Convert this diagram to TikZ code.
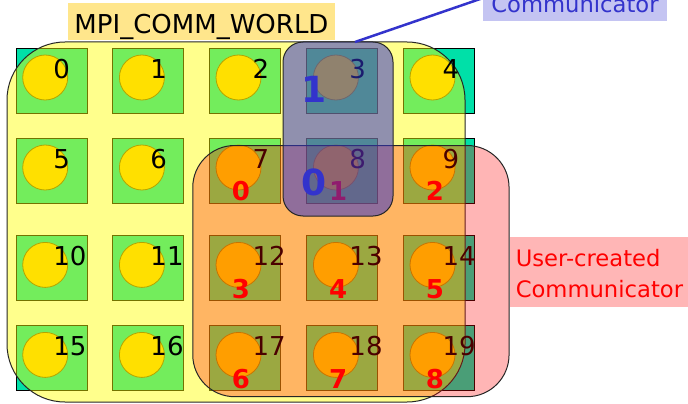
\documentclass[tikz,border=0pt]{standalone}
\usepackage{fontspec}
\setmainfont{DejaVu Sans}
\usetikzlibrary{calc}
\newdimen\pxu \pxu=0.75pt
\definecolor{cellteal}{RGB}{0,224,168}
\definecolor{procyel}{RGB}{255,199,0}
\definecolor{procedge}{RGB}{120,90,0}
\definecolor{commblue}{RGB}{51,51,204}
\definecolor{labyellow}{RGB}{255,230,140}
\definecolor{labpink}{RGB}{255,182,182}
\definecolor{lablav}{RGB}{196,196,242}
\definecolor{ovyellow}{RGB}{255,255,0}
\definecolor{ovred}{RGB}{255,0,0}
\definecolor{ovpurple}{RGB}{51,51,204}
\tikzset{
  cell/.style={rectangle, draw=black, line width=0.8\pxu, fill=cellteal,
    minimum width=71\pxu, minimum height=65\pxu, inner sep=0, outer sep=0},
  proc/.style={circle, draw=procedge, line width=0.8\pxu, fill=procyel,
    minimum size=45\pxu, inner sep=0, outer sep=0},
  rank/.style={font=\fontsize{19.5}{20}\selectfont, inner sep=0, anchor=base west},
  subrank/.style={font=\bfseries\fontsize{19.5}{20}\selectfont, text=red, inner sep=0, anchor=base},
  bigrank/.style={font=\bfseries\fontsize{27}{28}\selectfont, text=commblue, inner sep=0, anchor=base},
  region/.style={rectangle, draw=black!85, line width=1\pxu, inner sep=0, outer sep=0},
  labfont/.style={font=\fontsize{17}{18}\selectfont, inner sep=0},
}
\begin{document}
\begin{tikzpicture}[x=0.75pt,y=-0.75pt]
\useasboundingbox (0,0) rectangle (688,403);
\clip (0,0) rectangle (688,403);
% cells and processes
\foreach \r/\ty in {0/48.3,1/138.3,2/235.7,3/325.7}{
  \foreach \c/\lx in {0/16,1/112.7,2/209.3,3/306.7,4/403.3}{
    \pgfmathtruncatemacro{\n}{5*\r+\c}
    \node[cell] (s\n) at (\lx+35.5,\ty+32.5) {};
    \node[proc] (p\n) at (\lx+29.2,\ty+29.2) {};
  }
}
% MPI_COMM_WORLD region
\node[region, fill=ovyellow, fill opacity=0.45, minimum width=458\pxu,
  minimum height=360\pxu, rounded corners=58\pxu] (world) at (236,222) {};
% global ranks
\foreach \r/\ty in {0/48.3,1/138.3,2/235.7,3/325.7}{
  \foreach \c/\lx/\off in {0/16/37,1/112.7/37.5,2/209.3/43,3/306.7/42.5,4/403.3/39}{
    \pgfmathtruncatemacro{\n}{5*\r+\c}
    \node[rank] (n\n) at (\lx+\off,\ty+30) {\n};
  }
}
% user-created communicator region
\node[region, fill=ovred, fill opacity=0.29, minimum width=316.3\pxu,
  minimum height=251.2\pxu, rounded corners=42\pxu] (usercomm) at (350.9,271.1) {};
\foreach \n/\k in {7/0,8/1,9/2,12/3,13/4,14/5,17/6,18/7,19/8}{
  \node[subrank] (q\k) at ($(s\n.north west)+(31.5,62.5)$) {\k};
}
% column communicator region
\node[region, fill=ovpurple, fill opacity=0.54, minimum width=110\pxu,
  minimum height=174\pxu, rounded corners=20\pxu] (colcomm) at (338,129) {};
\node[bigrank] (b1) at (314.5,103) {1};
\node[bigrank] (b0) at (314.5,195) {0};
% labels
\node[fill=labyellow, inner sep=0, minimum width=267\pxu, minimum height=37\pxu,
  text height=27\pxu, text depth=3.4\pxu, font=\fontsize{19.5}{20}\selectfont]
  (wlab) at (201.5,21.5) {MPI\_COMM\_WORLD};
\node[labfont, fill=lablav, minimum width=183.4\pxu, minimum height=46\pxu,
  text height=30\pxu, text depth=1.4\pxu, text=commblue] (clab) at (575,-2) {Communicator};
\coordinate (ptr) at (355,42);
\draw[commblue, line width=2.5\pxu] (ptr) -- (clab.west);
\node[fill=labpink, inner sep=0, minimum width=190\pxu, minimum height=70\pxu,
  anchor=north west] (ubg) at (510,236.7) {};
\node[labfont, text=red, anchor=base west] (u1) at (515.5,266.7) {User-created};
\node[labfont, text=red, anchor=base west] (u2) at (515.5,297.7) {Communicator};
\end{tikzpicture}
\end{document}
